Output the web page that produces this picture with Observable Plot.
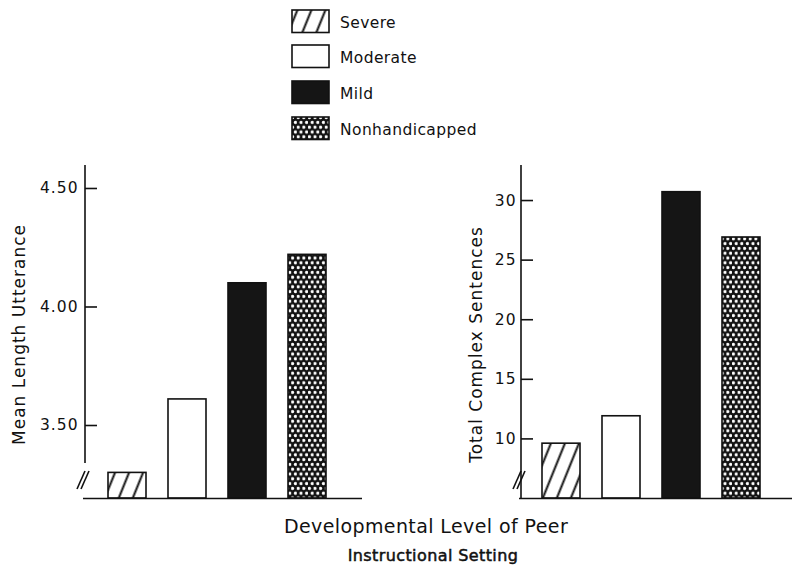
<!DOCTYPE html>
<html><head><meta charset="utf-8">
<script src="https://cdn.jsdelivr.net/npm/d3@7"></script>
<script src="https://cdn.jsdelivr.net/npm/@observablehq/plot@0.6"></script>
<style>
html,body{margin:0;padding:0;background:#fff;}
#page{position:relative;width:792px;height:565px;overflow:hidden;font-family:"DejaVu Sans",sans-serif;color:#111;}
#page > svg{position:absolute;}
</style></head><body><div id="page"></div>
<script>
// ---- data ----
const groups = ["Severe", "Moderate", "Mild", "Nonhandicapped"];
const mluValues = [3.30, 3.61, 4.10, 4.22];
const complexValues = [9.6, 11.9, 30.7, 26.9];
const mluTicks = [3.5, 4.0, 4.5];
const complexTicks = [10, 15, 20, 25, 30];
const mluTitle = "Mean Length Utterance";
const complexTitle = "Total Complex Sentences";
const xTitle = "Developmental Level of Peer";
const captionText = "Instructional Setting";
const mluDomain = [3.192, 4.597];
const complexDomain = [5, 32.94];

// ---- styles ----
const fills = {Severe: "url(#hatch)", Moderate: "#ffffff", Mild: "#151515", Nonhandicapped: "url(#dots)"};
const ink = "#111";
const page = d3.select("#page");

// pattern defs + legend + bottom texts
const over = page.append("svg").attr("width", 792).attr("height", 565).style("left", "0px").style("top", "0px");
const defs = over.append("defs");
const hatch = defs.append("pattern").attr("id", "hatch").attr("patternUnits", "userSpaceOnUse")
  .attr("width", 13).attr("height", 13).attr("patternTransform", "rotate(22)");
hatch.append("rect").attr("width", 13).attr("height", 13).attr("fill", "#fff");
hatch.append("line").attr("x1", 6.5).attr("x2", 6.5).attr("y1", -1).attr("y2", 14).attr("stroke", ink).attr("stroke-width", 2);
const dots = defs.append("pattern").attr("id", "dots").attr("patternUnits", "userSpaceOnUse")
  .attr("width", 5.6).attr("height", 9.6);
dots.append("rect").attr("width", 5.6).attr("height", 9.6).attr("fill", "#121212");
dots.append("circle").attr("cx", 1.4).attr("cy", 2.4).attr("r", 1.6).attr("fill", "#fff");
dots.append("circle").attr("cx", 4.2).attr("cy", 7.2).attr("r", 1.6).attr("fill", "#fff");

const legendTops = [10, 45, 81, 117];
groups.forEach((g, i) => {
  over.append("rect").attr("x", 292).attr("y", legendTops[i]).attr("width", 37).attr("height", 22.5)
    .attr("fill", fills[g]).attr("stroke", ink).attr("stroke-width", 1.6);
  over.append("text").attr("x", 340).attr("y", legendTops[i] + 18).attr("font-size", 15.5)
    .attr("letter-spacing", "0.4px").attr("fill", ink).text(g);
});
over.append("text").attr("x", 426).attr("y", 533).attr("text-anchor", "middle").attr("font-size", 19)
  .attr("letter-spacing", "0.4px").attr("fill", ink).text(xTitle);
over.append("text").attr("x", 433).attr("y", 561).attr("text-anchor", "middle").attr("font-size", 16)
  .attr("stroke", ink).attr("stroke-width", 0.5).attr("letter-spacing", "0.4px").attr("fill", ink).text(captionText);

function axisDecor(continuous) {
  return (index, scales, values, dims) => {
    const x0 = dims.marginLeft, top = dims.marginTop, base = dims.height - dims.marginBottom;
    const yc = base - 18;
    const g = d3.create("svg:g").attr("stroke", ink).attr("stroke-width", 1.6).attr("fill", "none");
    g.append("line").attr("x1", x0).attr("x2", x0).attr("y1", top).attr("y2", continuous ? base : yc - 17);
    for (const off of [-4, 0]) g.append("line").attr("x1", x0 + off - 4).attr("y1", yc + 9).attr("x2", x0 + off + 4).attr("y2", yc - 9);
    return g.node();
  };
}

function panel({values, ticks, domain, title, width, marginLeft, marginRight, xRange, titleDx, titleDy, fmt, tickPad, continuous}) {
  const data = groups.map((g, i) => ({group: g, value: values[i]}));
  const height = 358, marginTop = 15, marginBottom = 10;
  const frameW = width - marginLeft - marginRight;
  return Plot.plot({
    width, height, marginTop, marginBottom, marginLeft, marginRight,
    style: {fontFamily: "DejaVu Sans, sans-serif", fontSize: "15px", background: "transparent", color: ink, letterSpacing: "1px", overflow: "visible"},
    x: {type: "band", domain: groups, range: xRange, paddingInner: 0.375, paddingOuter: 0, axis: null},
    y: {domain, axis: null},
    color: {type: "identity"},
    marks: [
      Plot.barY(data, {x: "group", y1: domain[0], y2: "value", fill: d => fills[d.group], stroke: ink, strokeWidth: 1.6}),
      Plot.ruleY(ticks, {y: d => d, insetRight: frameW - 12, stroke: ink, strokeWidth: 1.6}),
      Plot.axisY(ticks, {tickSize: 0, tickPadding: tickPad, tickFormat: fmt, label: null, fontSize: 15.5, fill: ink}),
      Plot.ruleY([domain[0]], {stroke: ink, strokeWidth: 1.6, insetLeft: -2}),
      axisDecor(continuous),
      Plot.text([title], {frameAnchor: "left", textAnchor: "middle", rotate: -90, dx: titleDx, dy: titleDy, fontSize: 17, text: d => d, fill: ink})
    ]
  });
}

const left = panel({values: mluValues, ticks: mluTicks, domain: mluDomain, title: mluTitle,
  width: 372, marginLeft: 85, marginRight: 10, xRange: [106.5, 327.6], titleDx: -66, titleDy: 2.5,
  fmt: d3.format(".2f"), tickPad: 7, continuous: false});
const right = panel({values: complexValues, ticks: complexTicks, domain: complexDomain, title: complexTitle,
  width: 396, marginLeft: 125, marginRight: 0, xRange: [145.7, 364.3], titleDx: -45, titleDy: 12.5,
  fmt: d => String(d), tickPad: 5, continuous: true});
left.style.position = "absolute"; left.style.left = "0px"; left.style.top = "150px";
right.style.position = "absolute"; right.style.left = "396px"; right.style.top = "150px";
page.node().append(left, right);
</script></body></html>
